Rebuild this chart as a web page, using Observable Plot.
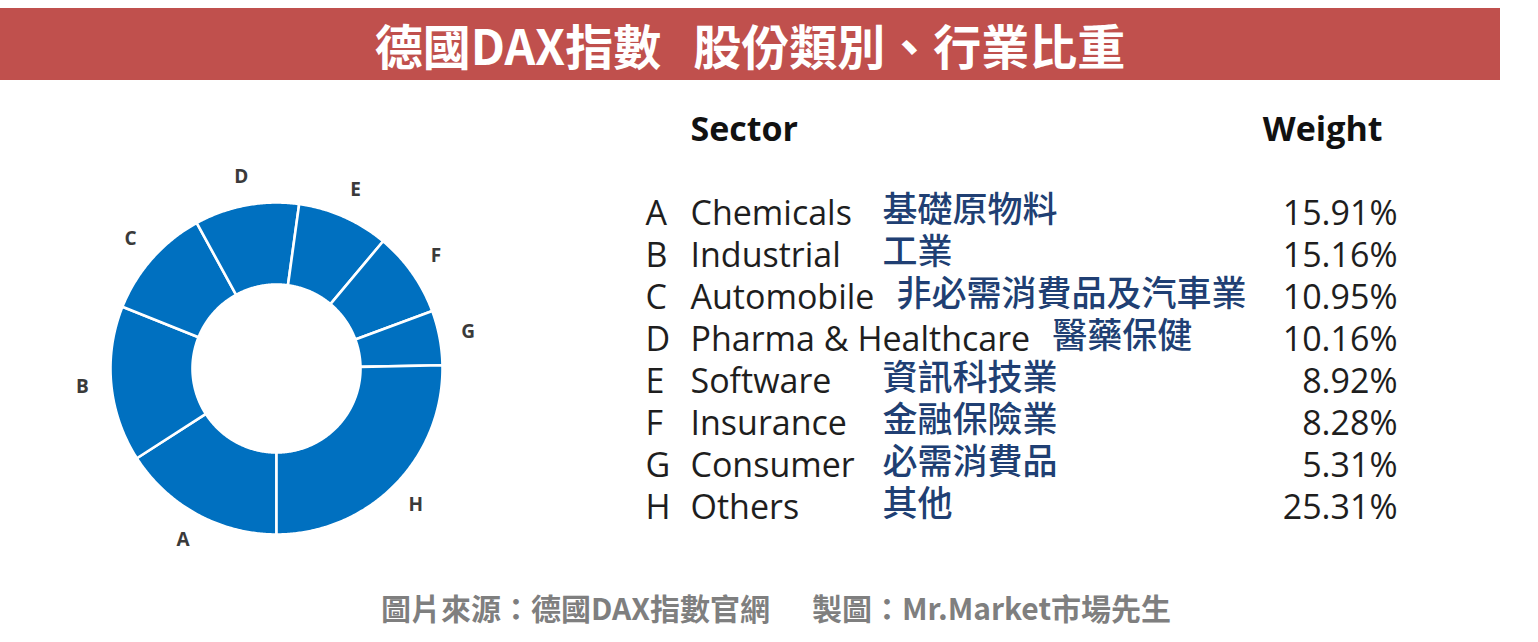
<!DOCTYPE html>
<html><head><meta charset="utf-8">
<script src="https://cdn.jsdelivr.net/npm/d3@7"></script>
<script src="https://cdn.jsdelivr.net/npm/@observablehq/plot@0.6"></script>
<style>
body{margin:0;background:#fff;}
#page{position:relative;width:1538px;height:642px;overflow:hidden;background:#fff;}
#title{position:absolute;left:0;top:8px;width:1500px;height:72px;background:#c0504d;color:#fff;font:700 48px "Noto Sans CJK TC";display:flex;align-items:center;justify-content:center;white-space:pre;line-height:1;}
#title .gap{display:inline-block;width:32px;}
#donut{position:absolute;left:61px;top:153px;}
#table{position:absolute;left:620px;top:100px;}
#caption{position:absolute;left:0;width:1552px;top:588px;text-align:center;color:#7f7f7f;font:700 30px "Noto Sans CJK TC";white-space:pre;line-height:38px;}
#caption .gap{display:inline-block;width:42px;}
</style></head>
<body><div id="page">
<div id="title"><span>德國DAX指數</span><span class="gap"></span><span>股份類別、行業比重</span></div>
<div id="donut"></div>
<div id="table"></div>
<div id="caption"><span>圖片來源：德國DAX指數官網</span><span class="gap"></span><span>製圖：Mr.Market市場先生</span></div>
</div>
<script>
// ---- data ----
const letters = ["A", "B", "C", "D", "E", "F", "G", "H"];
const sectors = ["Chemicals", "Industrial", "Automobile", "Pharma & Healthcare", "Software", "Insurance", "Consumer", "Others"];
const sectorsZh = ["基礎原物料", "工業", "非必需消費品及汽車業", "醫藥保健", "資訊科技業", "金融保險業", "必需消費品", "其他"];
const weights = [15.91, 15.16, 10.95, 10.16, 8.92, 8.28, 5.31, 25.31];
const headers = ["Sector", "Weight"];

// ---- donut ----
const R_OUT = 166, R_IN = 84, R_LAB = 195, START = 180;
const total = d3.sum(weights);
let acc = 0;
const slices = letters.map((l, i) => {
  const a0 = START + acc / total * 360;
  acc += weights[i];
  const a1 = START + acc / total * 360;
  return {letter: l, a0, a1, mid: (a0 + a1) / 2};
});
const pt = (r, deg) => [r * Math.sin(deg * Math.PI / 180), -r * Math.cos(deg * Math.PI / 180)];
const features = slices.map(s => {
  const ring = [];
  const n = Math.max(2, Math.ceil((s.a1 - s.a0) / 0.5));
  for (let k = 0; k <= n; k++) ring.push(pt(R_OUT, s.a0 + (s.a1 - s.a0) * k / n));
  for (let k = n; k >= 0; k--) ring.push(pt(R_IN, s.a0 + (s.a1 - s.a0) * k / n));
  ring.push(ring[0]);
  return {type: "Feature", properties: {letter: s.letter}, geometry: {type: "Polygon", coordinates: [ring]}};
});

const donut = Plot.plot({
  width: 430, height: 430, margin: 0,
  projection: ({width, height}) => d3.geoIdentity().translate([width / 2, height / 2]),
  marks: [
    Plot.geo(features, {fill: "#0070c0", stroke: "white", strokeWidth: 2.6}),
    Plot.text(slices, {
      x: d => pt(R_LAB, d.mid)[0], y: d => pt(R_LAB, d.mid)[1], text: "letter",
      fontSize: 19, fontWeight: 700, fill: "#3a3a3a", fontFamily: "Open Sans"
    })
  ]
});
document.getElementById("donut").append(donut);

// ---- table ----
const EN_SIZE = 34;
const ctx = document.createElement("canvas").getContext("2d");
ctx.font = `400 ${EN_SIZE}px 'Open Sans'`;
const EN_X = 70, ZH_COL = 262, ZH_GAP = 22;
const rows = letters.map((l, i) => {
  const w = ctx.measureText(sectors[i]).width;
  return {letter: l, sector: sectors[i], zh: sectorsZh[i], weight: weights[i].toFixed(2) + "%",
          zhX: Math.max(ZH_COL, EN_X + w + ZH_GAP)};
});

const table = Plot.plot({
  width: 800, height: 440, margin: 0,
  x: {type: "identity", axis: null},
  y: {type: "point", domain: letters, range: [112, 409], padding: 0, axis: null},
  marks: [
    Plot.text([headers[0]], {frameAnchor: "top-left", lineAnchor: "middle", textAnchor: "start", dx: EN_X, dy: 30, text: d => d,
      fontSize: 34, fontWeight: 700, fill: "#111", fontFamily: "Open Sans"}),
    Plot.text([headers[1]], {frameAnchor: "top-right", lineAnchor: "middle", textAnchor: "end", dx: -38, dy: 30, text: d => d,
      fontSize: 34, fontWeight: 700, fill: "#111", fontFamily: "Open Sans"}),
    Plot.text(rows, {y: "letter", text: "letter", frameAnchor: "left", textAnchor: "start", dx: 25,
      fontSize: EN_SIZE, fill: "#1e1e1e", fontFamily: "Open Sans"}),
    Plot.text(rows, {y: "letter", text: "sector", frameAnchor: "left", textAnchor: "start", dx: EN_X,
      fontSize: EN_SIZE, fill: "#1e1e1e", fontFamily: "Open Sans"}),
    Plot.text(rows, {x: "zhX", y: "letter", text: "zh", textAnchor: "start", dy: -4,
      fontSize: 35, fontWeight: 500, fill: "#203f73", fontFamily: "Noto Sans CJK TC"}),
    Plot.text(rows, {y: "letter", text: "weight", frameAnchor: "right", textAnchor: "end", dx: -23,
      fontSize: EN_SIZE, fill: "#1e1e1e", fontFamily: "Open Sans"})
  ]
});
document.getElementById("table").append(table);
</script>
</body></html>
